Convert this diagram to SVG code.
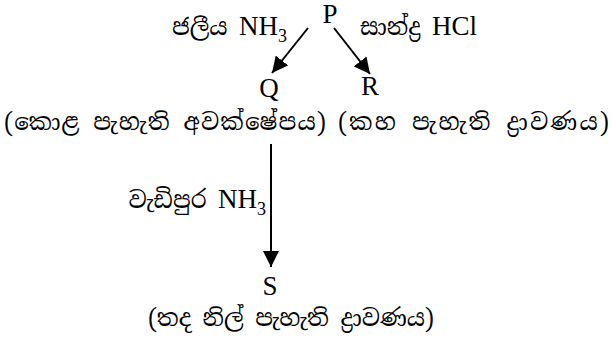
<svg xmlns="http://www.w3.org/2000/svg" width="612" height="338" viewBox="0 0 612 338">
  <style>
    .lat { font-family: "Liberation Serif", "Times New Roman", serif; font-size: 27px; fill: #000; }
    .sin { font-family: "Iskoola Pota", "Noto Serif Sinhala", "Noto Sans Sinhala", "Liberation Serif", serif; font-size: 23px; fill: #000; }
    .sub { font-size: 18px; }
    .edge { stroke: #000; stroke-width: 2; fill: none; }
  </style>
  <defs>
    <marker id="head" viewBox="0 0 16 16" refX="16" refY="8" markerWidth="16" markerHeight="16" markerUnits="userSpaceOnUse" orient="auto">
      <path d="M0,0 L16,8 L0,16 Z" fill="#000"/>
    </marker>
  </defs>

  <rect width="612" height="338" fill="#fff"/>

  <!-- compounds -->
  <g id="node-P">
    <text class="lat" x="330" y="23" text-anchor="middle">P</text>
  </g>
  <g id="node-Q">
    <text class="lat" x="269" y="97" text-anchor="middle">Q</text>
    <text class="sin" x="4" y="130" textLength="322" lengthAdjust="spacing">(කොළ පැහැති අවක්ෂේපය)</text>
  </g>
  <g id="node-R">
    <text class="lat" x="370" y="95" text-anchor="middle">R</text>
    <text class="sin" x="338" y="130" textLength="271" lengthAdjust="spacing">(කහ පැහැති ද්‍රාවණය)</text>
  </g>
  <g id="node-S">
    <text class="lat" x="270" y="295" text-anchor="middle">S</text>
    <text class="sin" x="148" y="326" textLength="286" lengthAdjust="spacing">(තද නිල් පැහැති ද්‍රාවණය)</text>
  </g>

  <!-- reaction arrows and reagents -->
  <g id="connectors">
    <line class="edge" x1="308" y1="28" x2="272" y2="73" marker-end="url(#head)"/>
    <line class="edge" x1="334" y1="28" x2="370" y2="74" marker-end="url(#head)"/>
    <line class="edge" x1="271" y1="144" x2="271" y2="267" marker-end="url(#head)"/>
    <text x="287" y="35" text-anchor="end"><tspan class="sin">ජලීය </tspan><tspan class="lat">NH</tspan><tspan class="lat sub" dy="7">3</tspan></text>
    <text x="360" y="35"><tspan class="sin">සාන්ද්‍ර </tspan><tspan class="lat">HCl</tspan></text>
    <text x="266" y="208" text-anchor="end"><tspan class="sin">වැඩිපුර </tspan><tspan class="lat">NH</tspan><tspan class="lat sub" dy="7">3</tspan></text>
  </g>
</svg>
